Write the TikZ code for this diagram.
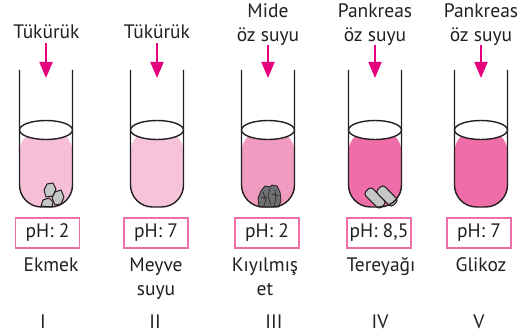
\documentclass[tikz,border=0pt]{standalone}
\usepackage{fontspec}
\setmainfont{PT Sans}
\usetikzlibrary{arrows.meta}
\definecolor{ink}{HTML}{231F20}
\definecolor{enzyme}{HTML}{E5007D}
\definecolor{frame}{HTML}{EE6FA8}
\definecolor{liqA}{HTML}{F6BED7}
\definecolor{liqB}{HTML}{F7C3DA}
\definecolor{liqC}{HTML}{F29BC1}
\definecolor{liqD}{HTML}{EF6DA8}
\definecolor{stone}{HTML}{C6C7C9}
\definecolor{meat}{HTML}{6E6F71}
\tikzset{
  every node/.style={text=ink, font=\fontsize{19.5}{24}\selectfont},
  glass/.style={draw=ink, line width=1.4pt},
  liquid/.style={rounded corners=22pt},
  surface/.style={draw=ink, line width=1.4pt, fill=white},
  drip/.style={draw=enzyme, line width=1.8pt, -{Triangle[length=16pt,width=13pt]}},
  phbox/.style={draw=frame, line width=1.6pt, minimum width=64pt, minimum height=30pt, inner sep=0pt},
  caption/.style={align=center},
  piece/.style={draw=ink, line width=1pt, fill=stone, line join=round},
}
% test tube: centre x, liquid colour, name
\newcommand{\testtube}[3]{%
  \fill[#2, liquid] (#1-26.5,130) -- (#1-26.5,207) -- (#1+26.5,207) -- (#1+26.5,130) -- cycle;
  \coordinate (#3top) at (#1,70);
  \coordinate (#3mouth) at (#1,78);
}
\newcommand{\tubeglass}[1]{%
  \draw[glass, rounded corners=22pt] (#1-26.5,70) -- (#1-26.5,207) -- (#1+26.5,207) [sharp corners] -- (#1+26.5,70);
  \draw[surface] (#1,130) ellipse [x radius=26.5, y radius=9.5];
}
\begin{document}
\begin{tikzpicture}[x=1pt, y=-1pt]
\useasboundingbox (0,0) rectangle (525,336);

% liquids
\testtube{46}{liqA}{t1}
\testtube{157}{liqB}{t2}
\testtube{268}{liqC}{t3}
\testtube{375}{liqD}{t4}
\testtube{481}{liqD}{t5}

% tube I: bread crumbs
\draw[piece] (47,184) -- (53,183) -- (56,189) -- (53,196) -- (46,197) -- (44,190) -- cycle;
\draw[piece] (55,192) -- (61,190) -- (64,197) -- (61,204) -- (55,205) -- (52,198) -- cycle;
\draw[piece] (41,206) -- (43,200) -- (49,198) -- (53,202) -- (52,207) -- cycle;

% tube III: minced meat
\draw[ink, line width=0.8pt, fill=meat, line join=round]
  (259,207) -- (258,198) -- (261,191) -- (265,186) -- (270,187) -- (272,185)
  -- (277,186) -- (280,192) -- (281,200) -- (279,207) -- cycle;
\draw[ink, line width=0.6pt] (263,192) -- (266,200) -- (264,206)
  (270,188) -- (268,196) -- (271,205) (275,190) -- (276,198) -- (274,206)
  (261,198) -- (267,197) (272,194) -- (279,196);

% tube IV: butter pieces
\draw[piece, rounded corners=3pt, rotate around={-45:(375,198)}]
  (364,193) rectangle (386,203);
\draw[piece, rounded corners=3pt, rotate around={-45:(387,196)}]
  (376,191) rectangle (398,201);

% glass outlines and surfaces
\tubeglass{46}
\tubeglass{157}
\tubeglass{268}
\tubeglass{375}
\tubeglass{481}

% added juices
\node[caption] (j1) at (46.5,32) {Tükürük};
\node[caption] (j2) at (157,32) {Tükürük};
\node[caption] (j3) at (268,25) {Mide\\öz suyu};
\node[caption] (j4) at (375,25) {Pankreas\\öz suyu};
\node[caption] (j5) at (481,25) {Pankreas\\öz suyu};
\coordinate (s1) at (46,43);
\coordinate (s2) at (157,43);
\coordinate (s3) at (268,45);
\coordinate (s4) at (375,45);
\coordinate (s5) at (481,45);
\foreach \i in {1,...,5} {
  \draw[drip] (s\i) -- (t\i mouth);
}

% pH values
\node[phbox] (p1) at (47.5,233) {pH: 2};
\node[phbox] (p2) at (156,233) {pH: 7};
\node[phbox] (p3) at (267,233) {pH: 2};
\node[phbox] (p4) at (379,233) {pH: 8,5};
\node[phbox] (p5) at (479,233) {pH: 7};

% contents
\node[caption, anchor=north] (c1) at (51,254) {Ekmek};
\node[caption, anchor=north] (c2) at (156,254) {Meyve\\suyu};
\node[caption, anchor=north] (c3) at (265,254) {Kıyılmış\\et};
\node[caption, anchor=north] (c4) at (381,254) {Tereyağı};
\node[caption, anchor=north] (c5) at (481,254) {Glikoz};

% tube numbers
\node (n1) at (43,322) {I};
\node (n2) at (155,322) {II};
\node (n3) at (274,322) {III};
\node (n4) at (380,322) {IV};
\node (n5) at (479,322) {V};
\end{tikzpicture}
\end{document}
